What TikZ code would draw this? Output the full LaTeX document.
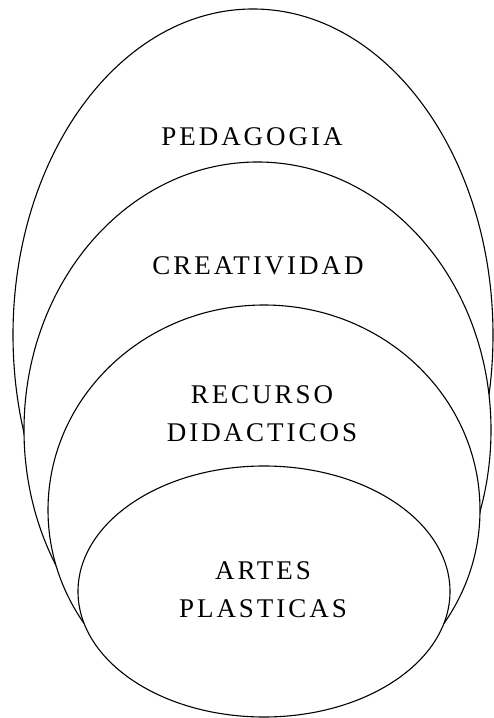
\documentclass[tikz,border=0pt]{standalone}
\usepackage{fontspec}
\newfontfamily\capafont[LetterSpace=11]{Liberation Serif}

\begin{document}
\begin{tikzpicture}[x=1pt, y=1pt,
	capa/.style = {draw, fill=white, line width=1.1pt},
	rotulo/.style = {inner sep=0pt, align=center, font=\capafont\fontsize{27}{38}\selectfont}]
	 \useasboundingbox (0, 0) rectangle (494, 718);
	 
	 % capas, de fuera hacia dentro
	 \draw[capa] (253, 383) ellipse [x radius=240, y radius=326];
	 \draw[capa] (257.5, 288) ellipse [x radius=233.5, y radius=268];
	 \draw[capa] (264, 208) ellipse [x radius=216, y radius=205];
	 \draw[capa] (264, 126.5) ellipse [x radius=186, y radius=125.5];
	 
	 \node[rotulo] (pedagogia) at (252, 581) {PEDAGOGIA};
	 \node[rotulo] (creatividad) at (258, 452) {CREATIVIDAD};
	 \node[rotulo] (recursos) at (262, 304.5) {RECURSO\\DIDACTICOS};
	 \node[rotulo] (artes) at (263, 128.5) {ARTES\\PLASTICAS};
	 \end{tikzpicture}
\end{document}
